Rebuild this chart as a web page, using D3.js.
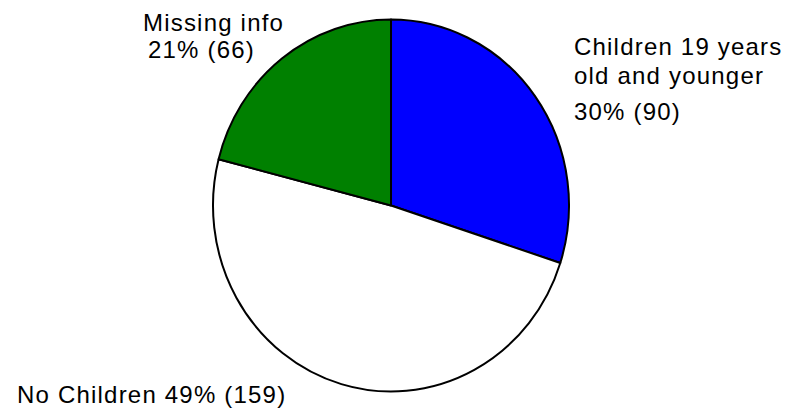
<!DOCTYPE html>
<html>
<head>
<meta charset="utf-8">
<script src="https://cdn.jsdelivr.net/npm/d3@7"></script>
<style>
  html, body { margin: 0; padding: 0; background: #fff; }
  svg { display: block; }
  text { font-family: "Liberation Sans", Arial, sans-serif; font-size: 24px; fill: #000; letter-spacing: 1.2px; }
</style>
</head>
<body>
<svg id="chart" width="789" height="410"></svg>
<script>
// Household composition of respondents
const categories = ["Children 19 years old and younger", "No Children", "Missing info"];
const percents = [30, 49, 21];
const counts = [90, 159, 66];
const sliceColors = ["#0000ff", "#ffffff", "#008000"];

const width = 789, height = 410;
const cx = 391, cy = 205.5;
const rx = 178, ry = 186;

const svg = d3.select("#chart");

const color = d3.scaleOrdinal().domain(categories).range(sliceColors);

const pie = d3.pie()
  .sort(null)
  .value(d => d.pct);

const data = categories.map((c, i) => ({ cat: c, pct: percents[i], n: counts[i] }));
const arcs = pie(data);

const arc = d3.arc().innerRadius(0).outerRadius(rx);

// Slightly taller than wide, so scale the y axis of the pie group
const g = svg.append("g")
  .attr("transform", `translate(${cx},${cy}) scale(1,${ry / rx})`);

g.selectAll("path")
  .data(arcs)
  .join("path")
  .attr("d", arc)
  .attr("fill", d => color(d.data.cat))
  .attr("stroke", "#000")
  .attr("stroke-width", 2)
  .attr("stroke-linejoin", "round")
  .attr("vector-effect", "non-scaling-stroke");

const pctText = i => `${percents[i]}% (${counts[i]})`;

// Label blocks, one per slice
const labels = [
  { lines: ["Children 19 years", "old and younger", pctText(0)], xs: [574, 574, 574], ys: [55, 84, 120] },
  { lines: [`No Children ${pctText(1)}`], xs: [17], ys: [403] },
  { lines: ["Missing info", pctText(2)], xs: [143, 148], ys: [31, 58] }
];

labels.forEach(l => {
  l.lines.forEach((t, k) => {
    svg.append("text")
      .attr("x", l.xs[k])
      .attr("y", l.ys[k])
      .text(t);
  });
});
</script>
</body>
</html>
